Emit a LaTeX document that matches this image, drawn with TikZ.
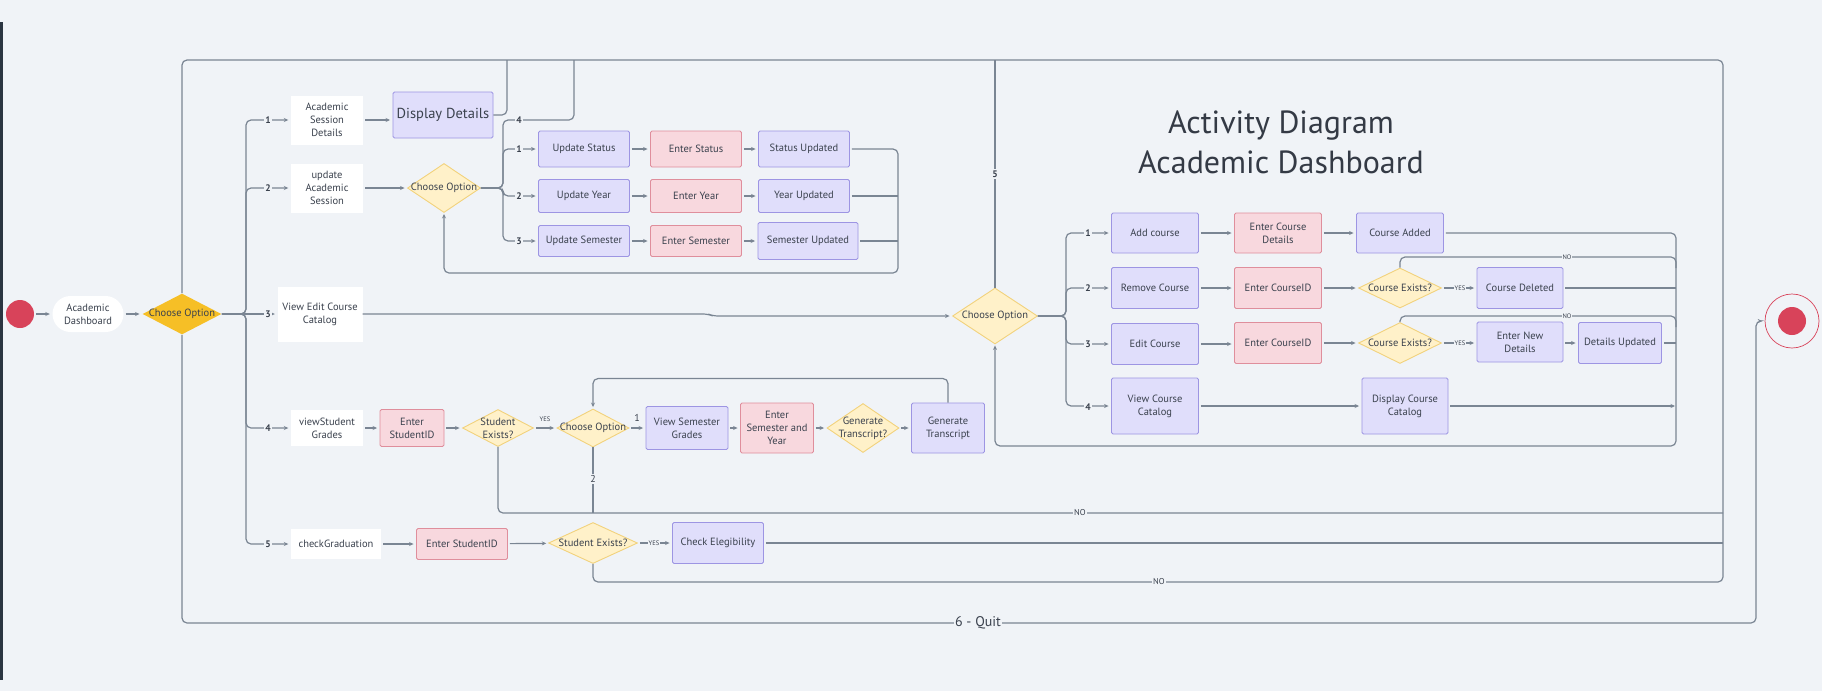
\documentclass[tikz,border=0pt]{standalone}
\usepackage{fontspec}
\setmainfont{PT Sans}
\usetikzlibrary{shapes.geometric,arrows.meta}
\definecolor{bg}{HTML}{F0F3F7}
\definecolor{ln}{HTML}{7A8593}
\definecolor{txt}{HTML}{3A414D}
\definecolor{pfill}{HTML}{E0DEFB}
\definecolor{pdraw}{HTML}{9D95E3}
\definecolor{rfill}{HTML}{F8D8DE}
\definecolor{rdraw}{HTML}{DF8E9C}
\definecolor{yfill}{HTML}{FFF1C9}
\definecolor{ydraw}{HTML}{F2D27C}
\definecolor{gold}{HTML}{F6BF26}
\definecolor{redc}{HTML}{D8435A}
\definecolor{strip}{HTML}{2B3541}
\tikzset{
 base/.style={inner sep=0pt, align=center, font=\fontsize{10.5}{13}\selectfont, text=txt},
 pbox/.style={base, rectangle, fill=pfill, draw=pdraw, line width=0.9pt, rounded corners=1.5pt},
 rbox/.style={base, rectangle, fill=rfill, draw=rdraw, line width=0.9pt, rounded corners=1.5pt},
 wbox/.style={base, rectangle, fill=white},
 dia/.style={diamond, inner sep=0pt, fill=yfill, draw=ydraw, line width=0.9pt},
 dlab/.style={base},
 sz/.style 2 args={minimum width=#1pt, minimum height=#2pt},
 conn/.style={draw=ln, line width=1.2pt, rounded corners=5pt},
 arr/.style={conn, -{Stealth[length=4.5pt,width=4pt]}, shorten >=2.5pt},
 gap/.style={arr, shorten <=2pt},
 num/.style={font=\fontsize{9.5}{10}\selectfont\bfseries, text=txt, fill=bg, inner sep=1.2pt},
 numr/.style={font=\fontsize{10}{10}\selectfont, text=txt, fill=bg, inner sep=1.2pt},
 yn/.style={font=\fontsize{6.5}{7}\selectfont, text=txt, fill=bg, inner sep=1pt},
 ynb/.style={yn, font=\fontsize{8.5}{9}\selectfont},
}
\begin{document}
\begin{tikzpicture}[x=1pt,y=-1pt]
\useasboundingbox (0,0) rectangle (1822,691);
\fill[bg] (0,0) rectangle (1822,691);
\fill[strip] (0,22) rectangle (2.5,680);

% title
\node[font=\fontsize{32}{40}\selectfont, text=txt!90!black, align=center] (title) at (1281,142) {Activity Diagram\\Academic Dashboard};

% left part
\node[circle, fill=redc, minimum size=28pt, inner sep=0pt] (start) at (20,314) {};
\node[wbox, sz={71}{36}, rounded corners=18pt] (dash) at (88,314) {Academic\\Dashboard};
\node[dia, sz={79}{41}, fill=gold, draw=none, label={[dlab]center:Choose Option}] (co1) at (182,314) {};

\node[wbox, sz={72}{49}] (asd) at (327,120) {Academic\\Session\\Details};
\node[pbox, sz={100}{46}, font=\fontsize{14.5}{16}\selectfont] (dd) at (443,115) {Display Details};
\node[wbox, sz={72}{49}] (uas) at (327,188) {update\\Academic\\Session};
\node[dia, sz={73}{49}, label={[dlab]center:Choose Option}] (co2) at (444,188) {};
\node[wbox, sz={85}{55}] (vecc) at (320,314) {View Edit Course\\Catalog};
\node[wbox, sz={72}{36}] (vsg) at (327,428) {viewStudent\\Grades};
\node[rbox, sz={64}{37}] (esid1) at (412,428) {Enter\\StudentID};
\node[dia, sz={71}{37}, label={[dlab]center:{Student\\Exists?}}] (se1) at (498,428) {};
\node[dia, sz={72}{38}, label={[dlab]center:Choose Option}] (co4) at (593,428) {};
\node[pbox, sz={82}{43}] (vsem) at (687,428) {View Semester\\Grades};
\node[rbox, sz={73}{50}] (esy) at (777,428) {Enter\\Semester and\\Year};
\node[dia, sz={72}{49}, label={[dlab]center:{Generate\\Transcript?}}] (gtq) at (863,428) {};
\node[pbox, sz={73}{50}] (gt) at (948,428) {Generate\\Transcript};
\node[wbox, sz={90}{30}] (cg) at (336,544) {checkGraduation};
\node[rbox, sz={91}{31}] (esid2) at (462,544) {Enter StudentID};
\node[dia, sz={89}{41}, label={[dlab]center:Student Exists?}] (se2) at (593,543) {};
\node[pbox, sz={91}{41}] (ce) at (718,543) {Check Elegibility};

% update session rows
\node[pbox, sz={91}{36}] (us) at (584,149) {Update Status};
\node[rbox, sz={91}{36}] (es) at (696,149) {Enter Status};
\node[pbox, sz={91}{36}] (su) at (804,149) {Status Updated};
\node[pbox, sz={91}{33}] (uy) at (584,196) {Update Year};
\node[rbox, sz={91}{33}] (ey) at (696,196) {Enter Year};
\node[pbox, sz={91}{33}] (yu) at (804,196) {Year Updated};
\node[pbox, sz={91}{31}] (usem) at (584,241) {Update Semester};
\node[rbox, sz={91}{31}] (esem) at (696,241) {Enter Semester};
\node[pbox, sz={100}{37}] (semu) at (808,241) {Semester Updated};

% course catalog part
\node[dia, sz={85}{56}, label={[dlab]center:Choose Option}] (co3) at (995,316) {};
\node[pbox, sz={87}{40}] (ac) at (1155,233) {Add course};
\node[rbox, sz={87}{40}] (ecd) at (1278,233) {Enter Course\\Details};
\node[pbox, sz={87}{40}] (ca) at (1400,233) {Course Added};
\node[pbox, sz={87}{41}] (rc) at (1155,288) {Remove Course};
\node[rbox, sz={87}{41}] (ecid1) at (1278,288) {Enter CourseID};
\node[dia, sz={83}{40}, label={[dlab]center:Course Exists?}] (cex1) at (1400,288) {};
\node[pbox, sz={86}{41}] (cd) at (1520,288) {Course Deleted};
\node[pbox, sz={87}{41}] (ec) at (1155,344) {Edit Course};
\node[rbox, sz={87}{41}] (ecid2) at (1278,343) {Enter CourseID};
\node[dia, sz={83}{41}, label={[dlab]center:Course Exists?}] (cex2) at (1400,343) {};
\node[pbox, sz={86}{40}] (end) at (1520,342) {Enter New\\Details};
\node[pbox, sz={83}{41}] (du) at (1620,343) {Details Updated};
\node[pbox, sz={87}{56}] (vcc) at (1155,406) {View Course\\Catalog};
\node[pbox, sz={86}{56}] (dcc) at (1405,406) {Display Course\\Catalog};

% end node
\node[circle, draw=redc, line width=0.7pt, minimum size=54pt, inner sep=0pt] (endc) at (1792,321) {};
\fill[redc] (endc.center) circle (14);

% ---------- connectors ----------
\draw[gap] (start) -- (dash);
\draw[gap] (dash) -- (co1);

% main fan
\draw[arr] (co1.east) -- (246,314) |- (asd.west);
\draw[arr] (co1.east) -- (246,314) |- (uas.west);
\draw[arr] (co1.east) -- (vecc.west);
\draw[arr] (co1.east) -- (246,314) |- (vsg.west);
\draw[arr] (co1.east) -- (246,314) |- (cg.west);
\node[num] at (268,120) {1};
\node[num] at (268,188) {2};
\node[num] at (268,314) {3};
\node[num] at (268,428) {4};
\node[num] at (268,544) {5};

% top frame & return lines
\draw[conn] (se2.south) |- (1723,582) -- (1723,60) -| (co1.north);
\node[ynb] at (1159,582) {NO};
\draw[arr] (co1.south) |- (1756,623) |- (endc.west);
\node[font=\fontsize{14}{15}\selectfont, text=txt, fill=bg, inner sep=1.5pt] at (978,623) {6 - Quit};

\draw[gap] (asd.east) -- (asd.east -| dd.west);
\draw[conn] (dd.east) -| (507,60);
\draw[gap] (uas) -- (co2);

% co2 fan
\draw[conn] (co2.east) -- (503,188) |- (574,120) -- (574,60);
\draw[arr] (co2.east) -- (503,188) |- (us.west);
\draw[arr] (co2.east) -- (503,188) |- (uy.west);
\draw[arr] (co2.east) -- (503,188) |- (usem.west);
\node[num] at (519,120) {4};
\node[num] at (519,149) {1};
\node[num] at (519,196) {2};
\node[num] at (519,241) {3};
\draw[gap] (us) -- (es);
\draw[gap] (es) -- (su);
\draw[gap] (uy) -- (ey);
\draw[gap] (ey) -- (yu);
\draw[gap] (usem) -- (esem);
\draw[gap] (esem) -- (semu);
\draw[arr, shorten <=2pt, shorten >=1pt] (su.east) -| (898,273) -| (co2.south);
\draw[conn, shorten <=2pt] (yu.east) -- (898,196);
\draw[conn, shorten <=2pt] (semu.east) -- (898,241);

% to co3
\draw[arr] (vecc.east) -- (708,314) -- (713,316) -- (co3.west);
\coordinate (t5) at (995,60);
\draw[conn] (t5) -- (co3.north);
\node[num] at (995,174) {5};

% co3 fan
\draw[arr] (co3.east) -- (1066,316) |- (ac.west);
\draw[arr] (co3.east) -- (1066,316) |- (rc.west);
\draw[arr] (co3.east) -- (1066,316) |- (ec.west);
\draw[arr] (co3.east) -- (1066,316) |- (vcc.west);
\node[num] at (1088,233) {1};
\node[num] at (1088,288) {2};
\node[num] at (1088,344) {3};
\node[num] at (1088,407) {4};
\draw[gap] (ac) -- (ecd);
\draw[gap] (ecd) -- (ca);
\draw[gap] (rc) -- (ecid1);
\draw[gap] (ecid1) -- (cex1);
\draw[gap] (cex1) -- (cd);
\node[yn] at (1460,288) {YES};
\draw[gap] (ec) -- (ecid2.west |- ec.east);
\draw[gap] (ecid2) -- (cex2);
\draw[gap] (cex2) -- (end.west |- cex2.east);
\node[yn] at (1460,343) {YES};
\draw[gap] (end.east |- du.west) -- (du);
\draw[gap] (vcc) -- (dcc);
\draw[arr, shorten <=2pt, shorten >=1pt] (ca.east) -| (1676,446) -| (co3.south);
\draw[conn] (cex1.north) |- (1676,257) -- (1676,268);
\node[yn] at (1567,257) {NO};
\draw[conn, shorten <=2pt] (cd.east) -- (1676,288);
\draw[conn] (cex2.north) |- (1676,316) -- (1676,327);
\node[yn] at (1567,316) {NO};
\draw[conn, shorten <=2pt] (du.east) -- (1676,343);
\draw[arr, shorten <=2pt, shorten >=1pt] (dcc.east) -- (1676,406);

% rows 4 and 5
\draw[gap] (vsg) -- (esid1);
\draw[gap] (esid1) -- (se1);
\draw[gap] (se1) -- (co4);
\node[yn, fill=none] at (545,419) {YES};
\draw[gap] (co4) -- (vsem);
\node[numr, fill=none] at (637,418) {1};
\draw[gap] (vsem) -- (esy);
\draw[gap] (esy) -- (gtq);
\draw[gap] (gtq) -- (gt);
\draw[arr, shorten >=1.5pt] (gt.north) -- ++(0,-24) -| (co4.north);
\draw[conn] (se1.south) |- (1723,513);
\node[ynb] at (1080,513) {NO};
\draw[conn] (co4.south) -- (593,513);
\node[numr] at (593,479) {2};
\draw[gap] (cg) -- (esid2);
\draw[gap] (esid2) -- (se2);
\draw[gap] (se2) -- (ce);
\node[yn] at (654,543) {YES};
\draw[conn, shorten <=2pt] (ce.east) -- (1723,543);
\end{tikzpicture}
\end{document}
